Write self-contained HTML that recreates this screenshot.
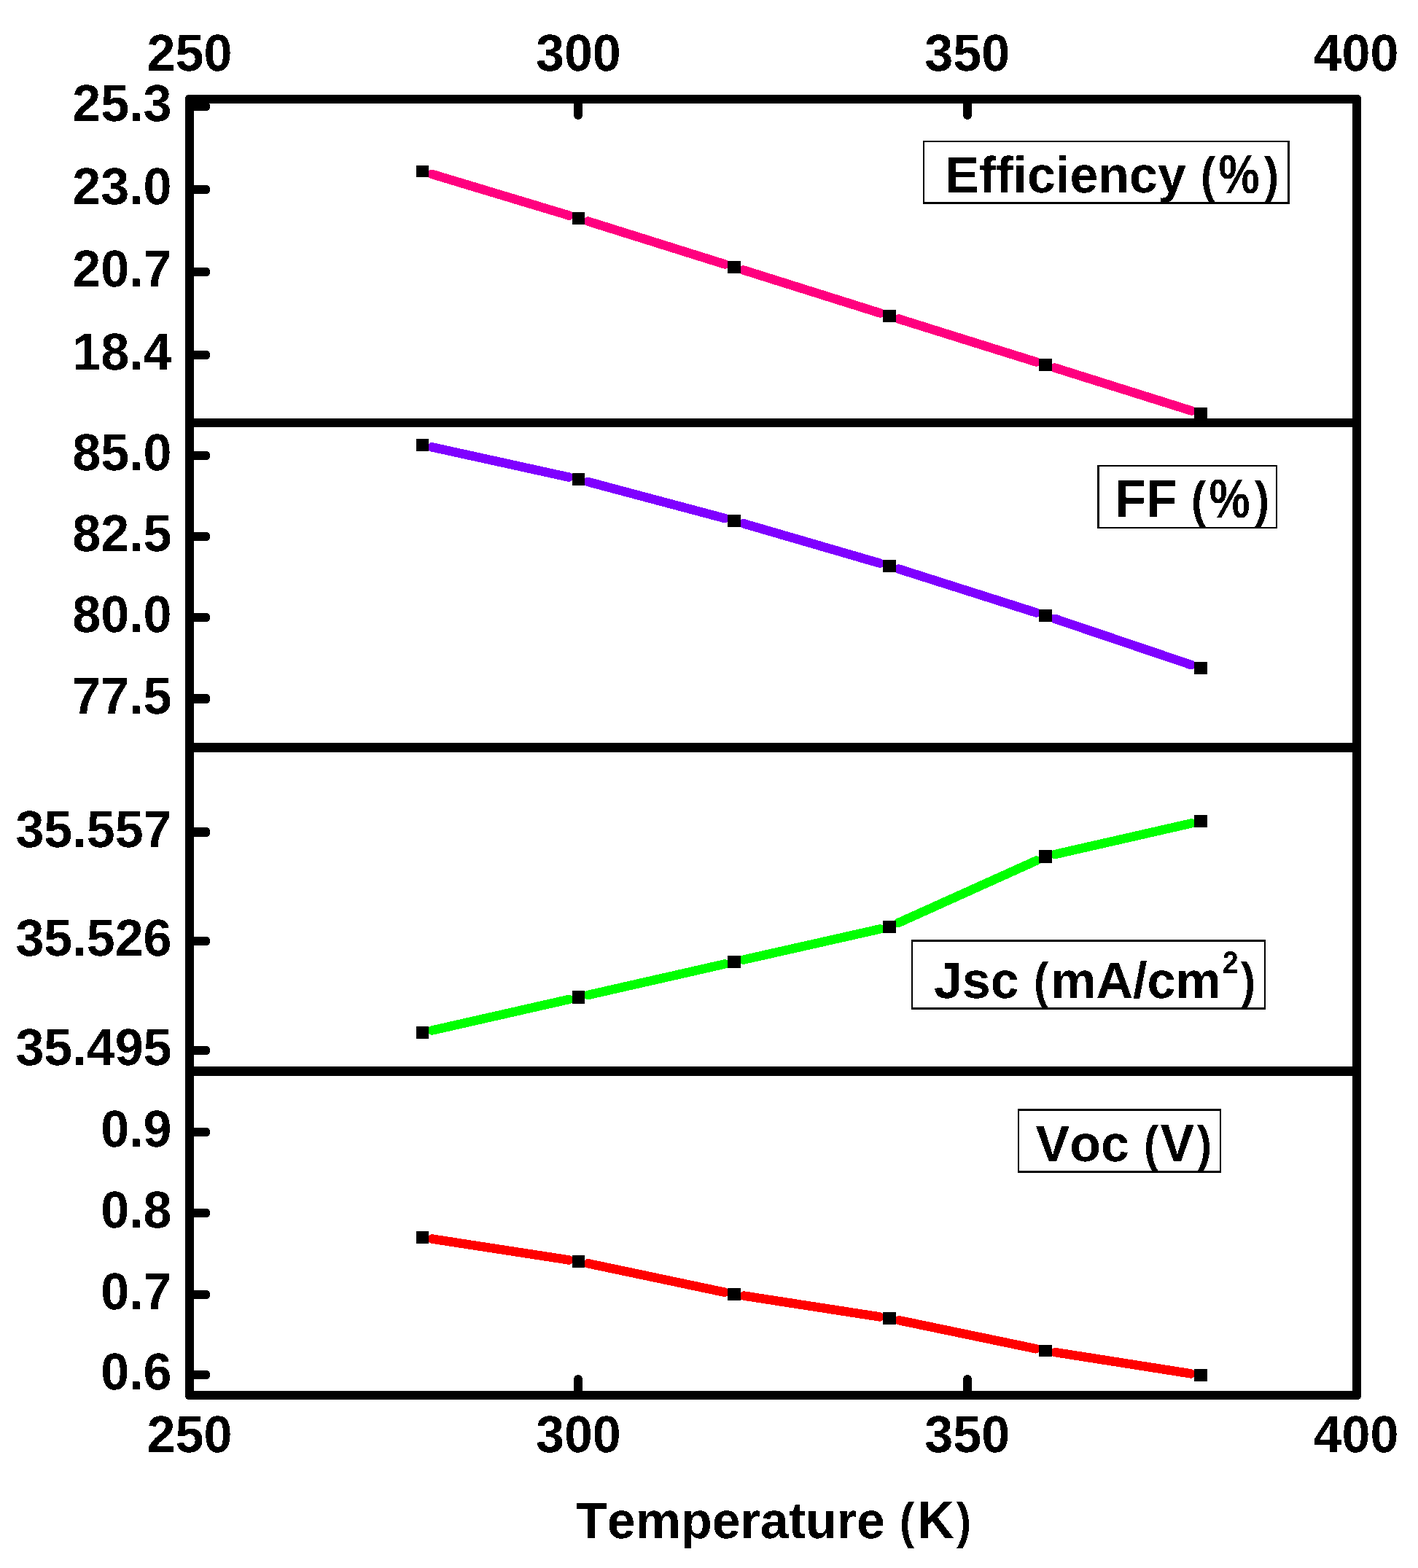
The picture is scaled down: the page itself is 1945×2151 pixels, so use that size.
<!DOCTYPE html>
<html lang="en">
<head>
<meta charset="utf-8">
<title>Temperature (K)</title>
<style>
html,body{margin:0;padding:0;background:#fff;}
body{width:1945px;height:2151px;}
svg{display:block;}
text{font-family:"Liberation Sans",Arial,Helvetica,sans-serif;font-weight:bold;font-size:70px;fill:#000;font-kerning:none;font-variant-ligatures:none;text-rendering:geometricPrecision;white-space:pre;}
.k{fill:#000;}
.ln{fill:none;stroke-width:12.5;stroke-linejoin:round;stroke-linecap:round;}
.lgbg{fill:#fff;}
</style>
</head>
<body>
<svg width="1945" height="2151" viewBox="0 0 1945 2151">
<rect x="0" y="0" width="1945" height="2151" fill="#fff"/>
<defs>
<filter id="bw" x="0" y="0" width="1945" height="2151" filterUnits="userSpaceOnUse" color-interpolation-filters="sRGB"><feComponentTransfer><feFuncA type="discrete" tableValues="0 1"/></feComponentTransfer></filter>
<clipPath id="lc0"><rect x="1268" y="195" width="498" height="82"/></clipPath>
<clipPath id="lc1"><rect x="1508" y="640" width="242" height="83"/></clipPath>
<clipPath id="lc2"><rect x="1252" y="1292" width="482" height="90"/></clipPath>
<clipPath id="lc3"><rect x="1398" y="1524" width="275" height="82"/></clipPath>
</defs>
<g shape-rendering="crispEdges">
<path class="ln" stroke="#ff007f" d="M592.33 238.87L780.67 295.63M806.29 303.51L994.21 362.49M1019.78 370.52L1207.22 429.48M1232.79 437.50L1421.21 496.50M1446.78 504.52L1634.22 563.48"/>
<path class="ln" stroke="#7f00ff" d="M592.59 613.37L780.41 654.63M806.45 660.96L994.05 711.04M1019.87 718.25L1207.13 772.75M1232.77 780.56L1421.23 840.44M1446.69 848.79L1634.31 912.21"/>
<path class="ln" stroke="#00ff00" d="M592.57 1413.54L780.43 1370.96M806.57 1365.03L993.93 1322.47M1020.07 1316.55L1206.93 1274.45M1232.22 1265.99L1421.78 1180.51M1447.07 1172.02L1633.93 1129.48"/>
<path class="ln" stroke="#ff0000" d="M592.74 1699.54L780.26 1728.46M806.61 1733.26L993.89 1772.74M1020.24 1777.55L1206.76 1806.45M1233.12 1811.23L1420.88 1850.27M1447.24 1855.08L1633.76 1884.42"/>
<rect class="k" x="571" y="227" width="17" height="16"/>
<rect class="k" x="785" y="291" width="17" height="17"/>
<rect class="k" x="998" y="358" width="18" height="17"/>
<rect class="k" x="1211" y="425" width="18" height="17"/>
<rect class="k" x="1425" y="492" width="18" height="17"/>
<rect class="k" x="1638" y="559" width="18" height="17"/>
<rect class="k" x="571" y="602" width="17" height="17"/>
<rect class="k" x="785" y="649" width="17" height="17"/>
<rect class="k" x="998" y="706" width="18" height="17"/>
<rect class="k" x="1211" y="768" width="18" height="17"/>
<rect class="k" x="1425" y="836" width="18" height="17"/>
<rect class="k" x="1638" y="908" width="18" height="17"/>
<rect class="k" x="571" y="1408" width="17" height="17"/>
<rect class="k" x="785" y="1359" width="17" height="18"/>
<rect class="k" x="998" y="1311" width="18" height="17"/>
<rect class="k" x="1211" y="1263" width="18" height="17"/>
<rect class="k" x="1425" y="1166" width="18" height="18"/>
<rect class="k" x="1638" y="1118" width="18" height="17"/>
<rect class="k" x="571" y="1689" width="17" height="17"/>
<rect class="k" x="785" y="1722" width="17" height="17"/>
<rect class="k" x="998" y="1767" width="18" height="17"/>
<rect class="k" x="1211" y="1800" width="18" height="17"/>
<rect class="k" x="1425" y="1845" width="18" height="16"/>
<rect class="k" x="1638" y="1878" width="18" height="17"/>
<path class="k" d="M265 140H283A5 5 0 0 1 288 145V147A5 5 0 0 1 283 152H265Z"/>
<path class="k" d="M265 254H283A5 5 0 0 1 288 259V261A5 5 0 0 1 283 266H265Z"/>
<path class="k" d="M265 367H283A5 5 0 0 1 288 372V374A5 5 0 0 1 283 379H265Z"/>
<path class="k" d="M265 481H283A5 5 0 0 1 288 486V488A5 5 0 0 1 283 493H265Z"/>
<path class="k" d="M265 619H283A5 5 0 0 1 288 624V626A5 5 0 0 1 283 631H265Z"/>
<path class="k" d="M265 730H283A5 5 0 0 1 288 735V737A5 5 0 0 1 283 742H265Z"/>
<path class="k" d="M265 841H283A5 5 0 0 1 288 846V848A5 5 0 0 1 283 853H265Z"/>
<path class="k" d="M265 952H283A5 5 0 0 1 288 957V960A5 5 0 0 1 283 965H265Z"/>
<path class="k" d="M265 1135H283A5 5 0 0 1 288 1140V1143A5 5 0 0 1 283 1148H265Z"/>
<path class="k" d="M265 1285H283A5 5 0 0 1 288 1290V1292A5 5 0 0 1 283 1297H265Z"/>
<path class="k" d="M265 1435H283A5 5 0 0 1 288 1440V1442A5 5 0 0 1 283 1447H265Z"/>
<path class="k" d="M265 1547H283A5 5 0 0 1 288 1552V1554A5 5 0 0 1 283 1559H265Z"/>
<path class="k" d="M265 1658H283A5 5 0 0 1 288 1663V1665A5 5 0 0 1 283 1670H265Z"/>
<path class="k" d="M265 1770H283A5 5 0 0 1 288 1775V1777A5 5 0 0 1 283 1782H265Z"/>
<path class="k" d="M265 1880H283A5 5 0 0 1 288 1885V1887A5 5 0 0 1 283 1892H265Z"/>
<path class="k" d="M787 141H799V158A6 6 0 0 1 793 164H793A6 6 0 0 1 787 158Z"/>
<path class="k" d="M787 1909H799V1892A6 6 0 0 0 793 1886H793A6 6 0 0 0 787 1892Z"/>
<path class="k" d="M1321 141H1333V158A6 6 0 0 1 1327 164H1327A6 6 0 0 1 1321 158Z"/>
<path class="k" d="M1321 1909H1333V1892A6 6 0 0 0 1327 1886H1327A6 6 0 0 0 1321 1892Z"/>
<path class="k" fill-rule="evenodd" d="M259 130H1862A5 5 0 0 1 1867 135V1915A5 5 0 0 1 1862 1920H259A5 5 0 0 1 254 1915V135A5 5 0 0 1 259 130Z M266 142V1908H1855V142Z"/>
<rect class="k" x="265" y="574" width="1591" height="12"/>
<rect class="k" x="265" y="1019" width="1591" height="13"/>
<rect class="k" x="265" y="1463" width="1591" height="13"/>
<rect class="k" x="1266" y="193" width="503" height="87"/>
<rect class="lgbg" x="1268" y="195" width="498" height="82"/>
<rect class="k" x="1505" y="638" width="247" height="87"/>
<rect class="lgbg" x="1508" y="640" width="242" height="83"/>
<rect class="k" x="1250" y="1289" width="486" height="96"/>
<rect class="lgbg" x="1252" y="1292" width="482" height="90"/>
<rect class="k" x="1396" y="1521" width="279" height="88"/>
<rect class="lgbg" x="1398" y="1524" width="275" height="82"/>
</g>
<g filter="url(#bw)">
<g clip-path="url(#lc0)"><text xml:space="preserve"><tspan x="1296.30" y="264.00">Efficiency </tspan><tspan x="1647.00" y="264.00" font-size="68.67" textLength="20.07" lengthAdjust="spacingAndGlyphs">(</tspan><tspan x="1671.43" y="265.40" font-size="75.32" textLength="56.23" lengthAdjust="spacingAndGlyphs">%</tspan><tspan x="1733.94" y="264.00" font-size="68.67" textLength="20.07" lengthAdjust="spacingAndGlyphs">)</tspan></text></g>
<g clip-path="url(#lc1)"><text xml:space="preserve"><tspan x="1529.30" y="709.00" font-size="72.66" textLength="104.97" lengthAdjust="spacingAndGlyphs">FF </tspan><tspan x="1634.00" y="709.00" font-size="68.67" textLength="20.07" lengthAdjust="spacingAndGlyphs">(</tspan><tspan x="1658.43" y="710.40" font-size="75.32" textLength="56.23" lengthAdjust="spacingAndGlyphs">%</tspan><tspan x="1720.94" y="709.00" font-size="68.67" textLength="20.07" lengthAdjust="spacingAndGlyphs">)</tspan></text></g>
<g clip-path="url(#lc2)"><text xml:space="preserve"><tspan x="1280.90" y="1369.00">Jsc </tspan><tspan x="1418.00" y="1369.00" font-size="68.67" textLength="20.07" lengthAdjust="spacingAndGlyphs">(</tspan><tspan x="1441.29" y="1369.00">mA/cm</tspan><tspan x="1676.63" y="1335.00" font-size="42.97" textLength="21.96" lengthAdjust="spacingAndGlyphs">2</tspan><tspan x="1701.94" y="1369.00" font-size="68.67" textLength="20.07" lengthAdjust="spacingAndGlyphs">)</tspan></text></g>
<g clip-path="url(#lc3)"><text xml:space="preserve"><tspan x="1420.50" y="1593.00">Voc </tspan><tspan x="1569.00" y="1593.00" font-size="68.67" textLength="20.07" lengthAdjust="spacingAndGlyphs">(</tspan><tspan x="1591.52" y="1593.00" font-size="72.66" textLength="46.69" lengthAdjust="spacingAndGlyphs">V</tspan><tspan x="1641.94" y="1593.00" font-size="68.67" textLength="20.07" lengthAdjust="spacingAndGlyphs">)</tspan></text></g>
<text xml:space="preserve"><tspan x="99.26" y="165.70" font-size="71.40" textLength="136.24" lengthAdjust="spacingAndGlyphs">25.3</tspan></text>
<text xml:space="preserve"><tspan x="99.26" y="279.70" font-size="71.40" textLength="136.24" lengthAdjust="spacingAndGlyphs">23.0</tspan></text>
<text xml:space="preserve"><tspan x="99.26" y="392.70" font-size="71.40" textLength="136.24" lengthAdjust="spacingAndGlyphs">20.7</tspan></text>
<text xml:space="preserve"><tspan x="99.26" y="506.70" font-size="71.40" textLength="136.24" lengthAdjust="spacingAndGlyphs">18.4</tspan></text>
<text xml:space="preserve"><tspan x="99.26" y="644.70" font-size="71.40" textLength="136.24" lengthAdjust="spacingAndGlyphs">85.0</tspan></text>
<text xml:space="preserve"><tspan x="99.26" y="755.70" font-size="71.40" textLength="136.24" lengthAdjust="spacingAndGlyphs">82.5</tspan></text>
<text xml:space="preserve"><tspan x="99.26" y="866.70" font-size="71.40" textLength="136.24" lengthAdjust="spacingAndGlyphs">80.0</tspan></text>
<text xml:space="preserve"><tspan x="99.26" y="978.70" font-size="71.40" textLength="136.24" lengthAdjust="spacingAndGlyphs">77.5</tspan></text>
<text xml:space="preserve"><tspan x="21.40" y="1161.70" font-size="71.40" textLength="214.10" lengthAdjust="spacingAndGlyphs">35.557</tspan></text>
<text xml:space="preserve"><tspan x="21.40" y="1310.70" font-size="71.40" textLength="214.10" lengthAdjust="spacingAndGlyphs">35.526</tspan></text>
<text xml:space="preserve"><tspan x="21.40" y="1460.70" font-size="71.40" textLength="214.10" lengthAdjust="spacingAndGlyphs">35.495</tspan></text>
<text xml:space="preserve"><tspan x="138.19" y="1572.70" font-size="71.40" textLength="97.31" lengthAdjust="spacingAndGlyphs">0.9</tspan></text>
<text xml:space="preserve"><tspan x="138.19" y="1683.70" font-size="71.40" textLength="97.31" lengthAdjust="spacingAndGlyphs">0.8</tspan></text>
<text xml:space="preserve"><tspan x="138.19" y="1795.70" font-size="71.40" textLength="97.31" lengthAdjust="spacingAndGlyphs">0.7</tspan></text>
<text xml:space="preserve"><tspan x="138.19" y="1905.70" font-size="71.40" textLength="97.31" lengthAdjust="spacingAndGlyphs">0.6</tspan></text>
<text xml:space="preserve"><tspan x="201.60" y="97.00" font-size="71.40" textLength="116.79" lengthAdjust="spacingAndGlyphs">250</tspan></text>
<text xml:space="preserve"><tspan x="201.60" y="1992.00" font-size="71.40" textLength="116.79" lengthAdjust="spacingAndGlyphs">250</tspan></text>
<text xml:space="preserve"><tspan x="735.00" y="97.00" font-size="71.40" textLength="116.79" lengthAdjust="spacingAndGlyphs">300</tspan></text>
<text xml:space="preserve"><tspan x="735.00" y="1992.00" font-size="71.40" textLength="116.79" lengthAdjust="spacingAndGlyphs">300</tspan></text>
<text xml:space="preserve"><tspan x="1268.30" y="97.00" font-size="71.40" textLength="116.79" lengthAdjust="spacingAndGlyphs">350</tspan></text>
<text xml:space="preserve"><tspan x="1268.30" y="1992.00" font-size="71.40" textLength="116.79" lengthAdjust="spacingAndGlyphs">350</tspan></text>
<text xml:space="preserve"><tspan x="1801.60" y="97.00" font-size="71.40" textLength="116.79" lengthAdjust="spacingAndGlyphs">400</tspan></text>
<text xml:space="preserve"><tspan x="1801.60" y="1992.00" font-size="71.40" textLength="116.79" lengthAdjust="spacingAndGlyphs">400</tspan></text>
<text xml:space="preserve"><tspan x="790.00" y="2110.00">Temperature </tspan><tspan x="1234.00" y="2110.00" font-size="68.67" textLength="20.07" lengthAdjust="spacingAndGlyphs">(</tspan><tspan x="1258.32" y="2110.00" font-size="72.66" textLength="50.55" lengthAdjust="spacingAndGlyphs">K</tspan><tspan x="1311.94" y="2110.00" font-size="68.67" textLength="20.07" lengthAdjust="spacingAndGlyphs">)</tspan></text>
</g>
</svg>
</body>
</html>
